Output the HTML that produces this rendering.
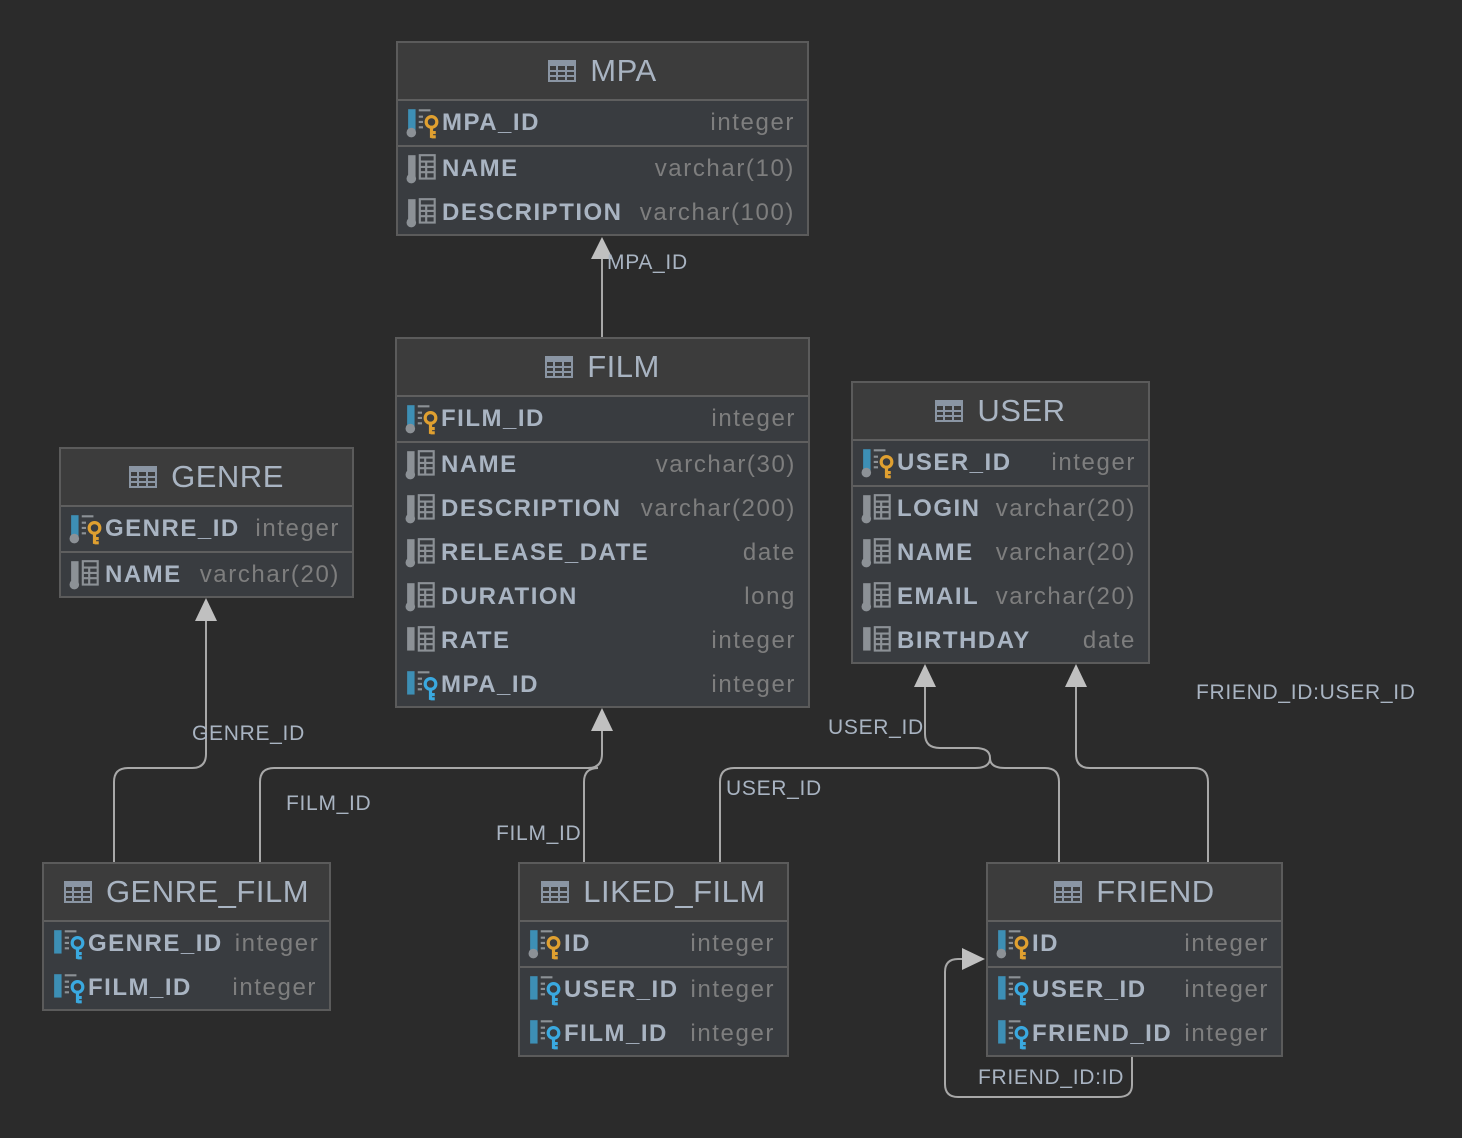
<!DOCTYPE html>
<html><head><meta charset="utf-8"><style>
body{margin:0;background:#2b2b2b;width:1462px;height:1138px;position:relative;overflow:hidden;font-family:"Liberation Sans",sans-serif}
.t{position:absolute;background:#393c40;border:2px solid #5b5b5b;box-sizing:border-box}
.h{height:56px;background:#3c3c3c;border-bottom:2px solid #5f5f5f;display:flex;align-items:center;justify-content:center;color:#a9b4c2;font-size:31px;gap:14px;letter-spacing:0.5px}
.r{height:44px;display:flex;align-items:center;padding:0 12px 0 8px;color:#a9b4c2;font-weight:bold;font-size:24px;letter-spacing:1.5px;white-space:nowrap}
.r.pk{border-bottom:2px solid #5f5f5f}
.r svg{width:34px;height:32px;margin-right:2px;flex:none}
.r .ty{margin-left:auto;font-weight:normal;color:#7e7e7e;padding-left:12px;letter-spacing:1.6px}
.lb{position:absolute;color:#a9b4c2;font-size:21px;line-height:1;letter-spacing:0.7px}
</style></head><body>
<svg width="0" height="0" style="position:absolute">
<defs>
<symbol id="ti" viewBox="0 0 28 22"><rect x="1" y="1" width="26" height="20" fill="none" stroke="#8a95a3" stroke-width="2"/><rect x="1" y="1" width="26" height="5" fill="#8a95a3"/><path d="M1 11H27M1 16H27M9 6V21M18 6V21" stroke="#8a95a3" stroke-width="2"/></symbol>
<symbol id="col" viewBox="0 0 32 30"><rect x="2" y="2" width="7" height="20" fill="#8c9196"/><circle cx="5" cy="24" r="4.5" fill="#8c9196"/><rect x="13" y="2" width="14" height="22" fill="none" stroke="#8c9196" stroke-width="2"/><path d="M13 8H27M13 13H27M13 18H27M19 8V24" stroke="#8c9196" stroke-width="2"/></symbol>
<symbol id="coln" viewBox="0 0 32 30"><rect x="2" y="2" width="7" height="22" fill="#8c9196"/><rect x="13" y="2" width="14" height="22" fill="none" stroke="#8c9196" stroke-width="2"/><path d="M13 8H27M13 13H27M13 18H27M19 8V24" stroke="#8c9196" stroke-width="2"/></symbol>
<symbol id="pk" viewBox="0 0 32 30"><rect x="2" y="2" width="7" height="20" fill="#3d8fb5"/><circle cx="5" cy="24" r="4.5" fill="#8c9196"/><path d="M12 3H23M12 9H16M12 14H16M12 19H16" stroke="#8c9196" stroke-width="2"/><circle cx="24" cy="14" r="5" fill="none" stroke="#e0a030" stroke-width="3"/><path d="M24 19V29M24 24H28M24 28H28" stroke="#e0a030" stroke-width="3"/></symbol>
<symbol id="fk" viewBox="0 0 32 30"><rect x="2" y="2" width="7" height="22" fill="#3d8fb5"/><path d="M12 3H23M12 9H16M12 14H16M12 19H16" stroke="#8c9196" stroke-width="2"/><circle cx="24" cy="14" r="5" fill="none" stroke="#3aa9e0" stroke-width="3"/><path d="M24 19V29M24 24H28M24 28H28" stroke="#3aa9e0" stroke-width="3"/></symbol>
</defs></svg>

<svg width="1462" height="1138" style="position:absolute;left:0;top:0">
<g fill="none" stroke="#a8a8a8" stroke-width="2">
<path d="M602 337V258"/>
<path d="M114 862V782Q114 768 128 768H192Q206 768 206 754V620"/>
<path d="M260 862V782Q260 768 274 768H588Q602 768 602 754V728"/>
<path d="M584 862V782Q584 768 598 768"/>
<path d="M720 862V782Q720 768 734 768H975Q990 768 990 758Q990 748 975 748H940Q925 748 925 734V686"/>
<path d="M1059 862V782Q1059 768 1045 768H1005Q990 768 990 758"/>
<path d="M1208 862V782Q1208 768 1194 768H1090Q1076 768 1076 754V686"/>
<path d="M1132 1056V1085Q1132 1097 1118 1097H958Q945 1097 945 1084V972Q945 959 958 959H964"/>
</g>
<g fill="#c0c0c0">
<polygon points="602,237 591,259 613,259"/>
<polygon points="206,598 195,621 217,621"/>
<polygon points="602,708 591,731 613,731"/>
<polygon points="925,664 914,687 936,687"/>
<polygon points="1076,664 1065,687 1087,687"/>
<polygon points="985,959 962,948 962,970"/>
</g>
</svg>

<div class="t" style="left:396px;top:41px;width:413px;height:195px">
<div class="h"><svg width="28" height="22"><use href="#ti"/></svg>MPA</div>
<div class="r pk"><svg><use href="#pk"/></svg>MPA_ID<span class="ty">integer</span></div>
<div class="r"><svg><use href="#col"/></svg>NAME<span class="ty">varchar(10)</span></div>
<div class="r"><svg><use href="#col"/></svg>DESCRIPTION<span class="ty">varchar(100)</span></div>
</div>

<div class="t" style="left:395px;top:337px;width:415px;height:371px">
<div class="h"><svg width="28" height="22"><use href="#ti"/></svg>FILM</div>
<div class="r pk"><svg><use href="#pk"/></svg>FILM_ID<span class="ty">integer</span></div>
<div class="r"><svg><use href="#col"/></svg>NAME<span class="ty">varchar(30)</span></div>
<div class="r"><svg><use href="#col"/></svg>DESCRIPTION<span class="ty">varchar(200)</span></div>
<div class="r"><svg><use href="#col"/></svg>RELEASE_DATE<span class="ty">date</span></div>
<div class="r"><svg><use href="#col"/></svg>DURATION<span class="ty">long</span></div>
<div class="r"><svg><use href="#coln"/></svg>RATE<span class="ty">integer</span></div>
<div class="r"><svg><use href="#fk"/></svg>MPA_ID<span class="ty">integer</span></div>
</div>

<div class="t" style="left:59px;top:447px;width:295px;height:151px">
<div class="h"><svg width="28" height="22"><use href="#ti"/></svg>GENRE</div>
<div class="r pk"><svg><use href="#pk"/></svg>GENRE_ID<span class="ty">integer</span></div>
<div class="r"><svg><use href="#col"/></svg>NAME<span class="ty">varchar(20)</span></div>
</div>

<div class="t" style="left:851px;top:381px;width:299px;height:283px">
<div class="h"><svg width="28" height="22"><use href="#ti"/></svg>USER</div>
<div class="r pk"><svg><use href="#pk"/></svg>USER_ID<span class="ty">integer</span></div>
<div class="r"><svg><use href="#col"/></svg>LOGIN<span class="ty">varchar(20)</span></div>
<div class="r"><svg><use href="#col"/></svg>NAME<span class="ty">varchar(20)</span></div>
<div class="r"><svg><use href="#col"/></svg>EMAIL<span class="ty">varchar(20)</span></div>
<div class="r"><svg><use href="#coln"/></svg>BIRTHDAY<span class="ty">date</span></div>
</div>

<div class="t" style="left:42px;top:862px;width:289px;height:149px">
<div class="h"><svg width="28" height="22"><use href="#ti"/></svg>GENRE_FILM</div>
<div class="r"><svg><use href="#fk"/></svg>GENRE_ID<span class="ty">integer</span></div>
<div class="r"><svg><use href="#fk"/></svg>FILM_ID<span class="ty">integer</span></div>
</div>

<div class="t" style="left:518px;top:862px;width:271px;height:195px">
<div class="h"><svg width="28" height="22"><use href="#ti"/></svg>LIKED_FILM</div>
<div class="r pk"><svg><use href="#pk"/></svg>ID<span class="ty">integer</span></div>
<div class="r"><svg><use href="#fk"/></svg>USER_ID<span class="ty">integer</span></div>
<div class="r"><svg><use href="#fk"/></svg>FILM_ID<span class="ty">integer</span></div>
</div>

<div class="t" style="left:986px;top:862px;width:297px;height:195px">
<div class="h"><svg width="28" height="22"><use href="#ti"/></svg>FRIEND</div>
<div class="r pk"><svg><use href="#pk"/></svg>ID<span class="ty">integer</span></div>
<div class="r"><svg><use href="#fk"/></svg>USER_ID<span class="ty">integer</span></div>
<div class="r"><svg><use href="#fk"/></svg>FRIEND_ID<span class="ty">integer</span></div>
</div>

<div class="lb" style="left:607px;top:252px">MPA_ID</div>
<div class="lb" style="left:192px;top:723px">GENRE_ID</div>
<div class="lb" style="left:286px;top:793px">FILM_ID</div>
<div class="lb" style="left:496px;top:823px">FILM_ID</div>
<div class="lb" style="left:828px;top:717px">USER_ID</div>
<div class="lb" style="left:726px;top:778px">USER_ID</div>
<div class="lb" style="left:1196px;top:682px">FRIEND_ID:USER_ID</div>
<div class="lb" style="left:978px;top:1067px">FRIEND_ID:ID</div>
</body></html>
